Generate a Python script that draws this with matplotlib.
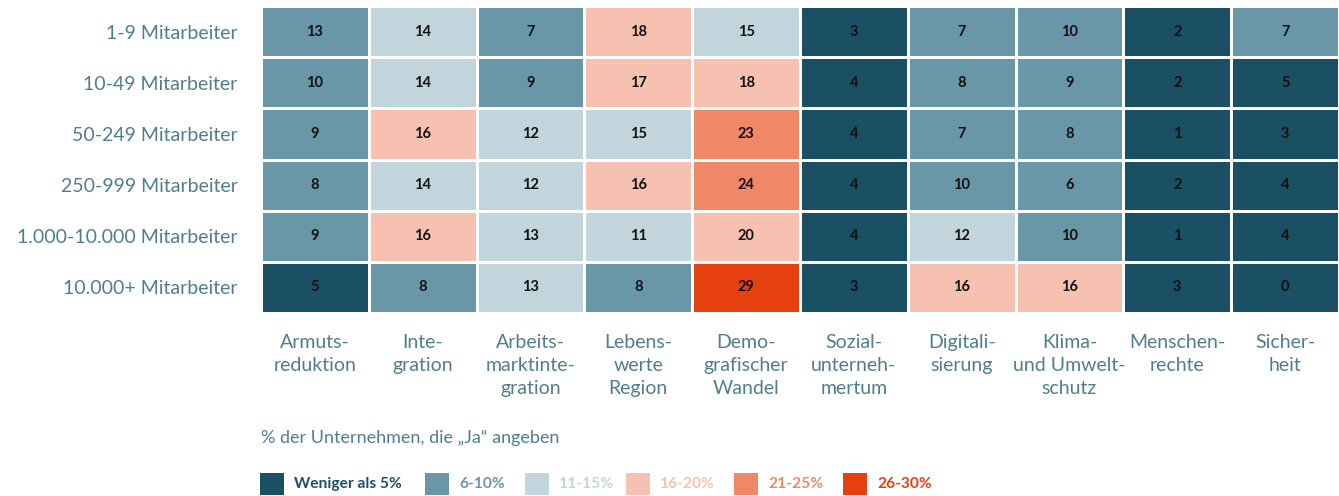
import matplotlib
matplotlib.use("Agg")
import matplotlib.pyplot as plt
import numpy as np
from matplotlib.colors import ListedColormap, BoundaryNorm
from matplotlib.patches import Rectangle

rows = ["1-9 Mitarbeiter", "10-49 Mitarbeiter", "50-249 Mitarbeiter",
        "250-999 Mitarbeiter", "1.000-10.000 Mitarbeiter", "10.000+ Mitarbeiter"]
cols = ["Armuts-\nreduktion", "Inte-\ngration", "Arbeits-\nmarktinte-\ngration",
        "Lebens-\nwerte\nRegion", "Demo-\ngrafischer\nWandel", "Sozial-\nunterneh-\nmertum",
        "Digitali-\nsierung", "Klima-\nund Umwelt-\nschutz", "Menschen-\nrechte", "Sicher-\nheit"]

values = [
    [13, 14, 7, 18, 15, 3, 7, 10, 2, 7],
    [10, 14, 9, 17, 18, 4, 8, 9, 2, 5],
    [9, 16, 12, 15, 23, 4, 7, 8, 1, 3],
    [8, 14, 12, 16, 24, 4, 10, 6, 2, 4],
    [9, 16, 13, 11, 20, 4, 12, 10, 1, 4],
    [5, 8, 13, 8, 29, 3, 16, 16, 3, 0],
]
# colour class of each cell as shown in the picture (0..5)
classes = [
    [1, 2, 1, 3, 2, 0, 1, 1, 0, 1],
    [1, 2, 1, 3, 3, 0, 1, 1, 0, 0],
    [1, 3, 2, 2, 4, 0, 1, 1, 0, 0],
    [1, 2, 2, 3, 4, 0, 1, 1, 0, 0],
    [1, 3, 2, 2, 3, 0, 2, 1, 0, 0],
    [0, 1, 2, 1, 5, 0, 3, 3, 0, 0],
]
legend_labels = ["Weniger als 5%", "6-10%", "11-15%", "16-20%", "21-25%", "26-30%"]
palette = ["#1b5064", "#6a97a8", "#c2d5dc", "#f6c1b0", "#ef8867", "#e5410f"]
subtitle = "% der Unternehmen, die \u201eJa\u201c angeben"

label_color = "#4f7e8e"
plt.rcParams['font.family'] = ['Lato', 'DejaVu Sans']

W, H = 1339, 496
fig = plt.figure(figsize=(W / 100, H / 100), dpi=100)
ax = fig.add_axes([261 / W, 1 - 313 / H, (W - 261) / W, (313 - 6) / H])

cmap = ListedColormap(palette)
norm = BoundaryNorm(np.arange(-0.5, 6.5, 1), cmap.N)
cls = np.array(classes)
ax.pcolormesh(np.arange(len(cols) + 1), np.arange(len(rows) + 1), cls,
              cmap=cmap, norm=norm, edgecolors="white", linewidth=0.9)
ax.set_xlim(0, len(cols))
ax.set_ylim(len(rows), 0)

for i, r in enumerate(values):
    for j, v in enumerate(r):
        ax.text(j + 0.5, i + 0.5, str(v), ha="center", va="center",
                fontsize=10.5, fontweight="bold", color="#111111")

ax.set_yticks(np.arange(len(rows)) + 0.5)
ax.set_yticklabels(rows, fontsize=14, color=label_color)
ax.set_xticks(np.arange(len(cols)) + 0.5)
ax.set_xticklabels(cols, fontsize=14, color=label_color, linespacing=1.42,
                   va="top")
ax.tick_params(length=0, axis="y", pad=17)
ax.tick_params(length=0, axis="x", pad=15)
for s in ax.spines.values():
    s.set_visible(False)

fig.text(261 / W, 1 - 438 / H, subtitle, fontsize=13, color=label_color,
         ha="left", va="center")

# legend
sw_x = [260, 425, 525, 626, 734, 843]
for k, (lab, col) in enumerate(zip(legend_labels, palette)):
    fig.patches.append(Rectangle((sw_x[k] / W, 1 - 495 / H), 24 / W, 22 / H,
                                 transform=fig.transFigure, facecolor=col,
                                 edgecolor="none"))
    fig.text((sw_x[k] + 34) / W, 1 - 484 / H, lab, fontsize=11.2,
             fontweight="bold", color=col, ha="left", va="center")

fig.savefig("out.png", dpi=100)
